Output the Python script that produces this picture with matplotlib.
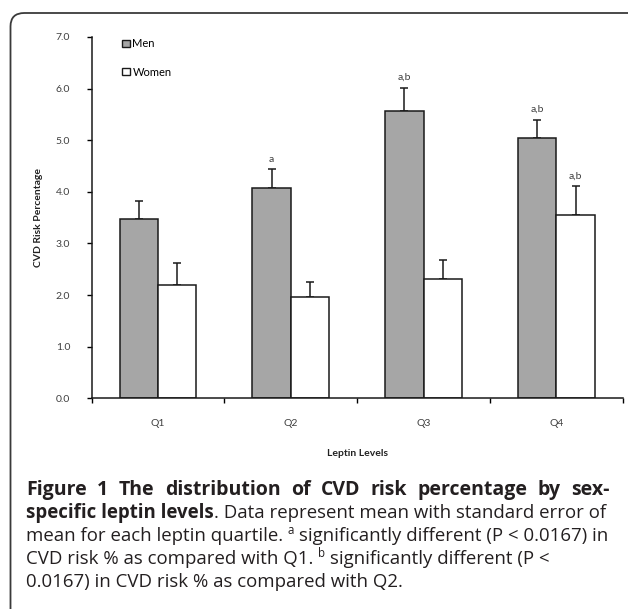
import numpy as np
import matplotlib
matplotlib.use("Agg")
import matplotlib.pyplot as plt
from matplotlib.patches import FancyBboxPatch, Patch

# data
quartiles = ["Q1", "Q2", "Q3", "Q4"]
men = [3.47, 4.08, 5.56, 5.05]
men_se = [0.36, 0.36, 0.46, 0.35]
women = [2.19, 1.97, 2.32, 3.55]
women_se = [0.44, 0.28, 0.35, 0.56]
men_marks = ["", "a", "a,b", "a,b"]
women_marks = ["", "", "", "a,b"]

W, H = 628, 609
fig = plt.figure(figsize=(W / 100, H / 100), dpi=100)


def fx(x):
    return x / W


def fy(y):
    return 1 - y / H


# rounded frame around the whole figure panel
frame = FancyBboxPatch((fx(10.5), fy(700)), fx(700), fy(13) - fy(700),
                       boxstyle="round,pad=0,rounding_size=0.022",
                       transform=fig.transFigure, fill=False,
                       edgecolor="#3a3a3a", linewidth=1.3)
fig.patches.append(frame)

ax = fig.add_axes([fx(91.7), fy(398.3), fx(622.7) - fx(91.7), fy(37) - fy(398.3)])

chart_font = "Lato"
txt_col = "#3f3f3f"
x = np.arange(len(quartiles))
bw = 0.289

ax.bar(x - bw / 2, men, bw, color="#a6a6a6", edgecolor="#1a1a1a", linewidth=1.1,
       label="Men", zorder=2)
ax.bar(x + bw / 2, women, bw, color="white", edgecolor="#1a1a1a", linewidth=1.1,
       label="Women", zorder=2)
ax.errorbar(x - bw / 2, men, yerr=[np.zeros(4), men_se], fmt="none",
            ecolor="#1a1a1a", elinewidth=1.1, capsize=2.6, capthick=1.1, zorder=1)
ax.errorbar(x + bw / 2, women, yerr=[np.zeros(4), women_se], fmt="none",
            ecolor="#1a1a1a", elinewidth=1.1, capsize=2.6, capthick=1.1, zorder=1)

for i in range(len(quartiles)):
    if men_marks[i]:
        ax.annotate(men_marks[i], (x[i] - bw / 2, men[i] + men_se[i]),
                    xytext=(0, 4), textcoords="offset points", ha="center",
                    va="bottom", fontsize=7.5, family=chart_font, color=txt_col)
    if women_marks[i]:
        ax.annotate(women_marks[i], (x[i] + bw / 2, women[i] + women_se[i]),
                    xytext=(0, 4), textcoords="offset points", ha="center",
                    va="bottom", fontsize=7.5, family=chart_font, color=txt_col)

ax.set_xlim(-0.5, 3.5)
ax.set_ylim(0, 7)
ax.set_yticks(np.arange(0, 7.1, 1.0))
ax.set_yticklabels([f"{v:.1f}" for v in np.arange(0, 7.1, 1.0)])
ax.set_xticks(x)
ax.set_xticklabels(quartiles)
ax.set_xticks(np.arange(-0.5, 3.6, 1.0), minor=True)
ax.tick_params(axis="x", which="major", length=0, pad=15)
ax.tick_params(axis="x", which="minor", length=3.5, width=1, direction="out")
ax.tick_params(axis="y", length=3.5, width=1, direction="out", pad=12)
for lab in ax.get_xticklabels() + ax.get_yticklabels():
    lab.set_family(chart_font)
    lab.set_fontsize(7.5)
    lab.set_color(txt_col)

for s in ["top", "right"]:
    ax.spines[s].set_visible(False)
for s in ["left", "bottom"]:
    ax.spines[s].set_linewidth(1.1)
    ax.spines[s].set_color("#1a1a1a")

ax.set_ylabel("CVD Risk Percentage", family=chart_font, fontsize=7.5,
              fontweight="bold", color="#222222")
ax.yaxis.set_label_coords(-0.092, 0.5)
ax.set_xlabel("Leptin Levels", family=chart_font, fontsize=7.5,
              fontweight="bold", color="#222222")
ax.xaxis.set_label_coords(0.5, -0.14)

handles = [Patch(facecolor="#a6a6a6", edgecolor="#1a1a1a", linewidth=1.0),
           Patch(facecolor="white", edgecolor="#1a1a1a", linewidth=1.0)]
ax.legend(handles, ["Men", "Women"], loc="upper left",
          bbox_to_anchor=(0.039, 1.024), frameon=False, handlelength=0.65,
          handleheight=0.65, handletextpad=0.25, labelspacing=1.55,
          prop={"family": chart_font, "size": 8})

# caption, drawn segment by segment
cap_font = "Open Sans"
cap_size = 13.4
cap_col = "#231f20"
renderer = fig.canvas.get_renderer()


def seg_width(s, weight, size):
    t = fig.text(0, 0, s, family=cap_font, fontweight=weight, fontsize=size)
    w = t.get_window_extent(renderer).width
    t.remove()
    return w


space_w = seg_width("a a", "normal", cap_size) - seg_width("aa", "normal", cap_size)
x_left = 26

# first line is justified (wider word gaps) in the reference
line1_words = "Figure 1 The distribution of CVD risk percentage by sex-".split()
line1_size = 14.0
line1_right = 610
word_w = [seg_width(w, "bold", line1_size) for w in line1_words]
gap = (line1_right - x_left - sum(word_w)) / (len(line1_words) - 1)
xp = x_left
for w, ww in zip(line1_words, word_w):
    fig.text(fx(xp), fy(495), w, family=cap_font, fontweight="bold",
             fontsize=line1_size, color=cap_col, ha="left", va="baseline")
    xp += ww + gap

caption_lines = [
    [("specific leptin levels", "bold", 0),
     (". Data represent mean with standard error of", "normal", 0)],
    [("mean for each leptin quartile.", "normal", 0), (" ", None, 0),
     ("a", "normal", 1), (" ", None, 0),
     ("significantly different (P < 0.0167) in", "normal", 0)],
    [("CVD risk % as compared with Q1.", "normal", 0), (" ", None, 0),
     ("b", "normal", 1), (" ", None, 0),
     ("significantly different (P <", "normal", 0)],
    [("0.0167) in CVD risk % as compared with Q2.", "normal", 0)],
]
line_base = [518, 541, 564, 587]

for segs, yb in zip(caption_lines, line_base):
    xp = x_left
    for s, weight, sup in segs:
        if weight is None:
            xp += space_w
            continue
        size = cap_size * 0.62 if sup else cap_size
        yy = yb - 7 if sup else yb
        t = fig.text(fx(xp), fy(yy), s, family=cap_font, fontweight=weight,
                     fontsize=size, color=cap_col, ha="left", va="baseline")
        xp = t.get_window_extent(renderer).x1

fig.savefig("out.png", dpi=100)
